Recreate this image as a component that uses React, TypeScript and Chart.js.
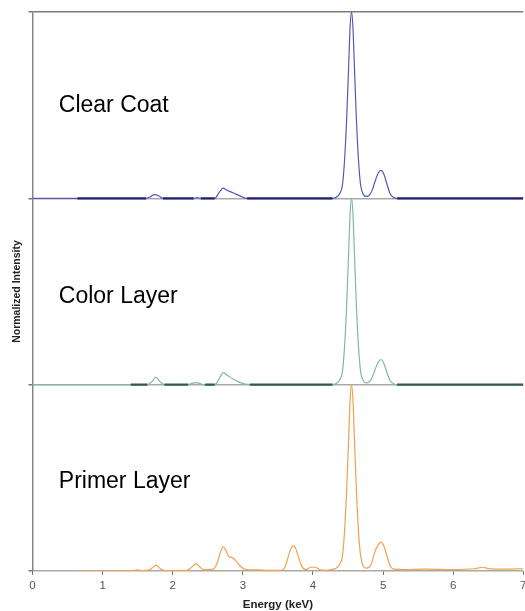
import React, { useEffect, useRef } from "react";
import { Chart, registerables } from "chart.js";

Chart.register(...registerables);

// ---------------- data ----------------
const seriesNames = ["Clear Coat", "Color Layer", "Primer Layer"];
const xTickValues = [0, 1, 2, 3, 4, 5, 6, 7];
const yTickValues = [0, 1, 2, 3];
const panelOffsets = [2, 1, 0];

const clearCoatEnergy = [
  0, 0.64, 1.62, 1.68, 1.74, 1.8, 1.86, 2.3, 2.35, 2.4, 2.6, 2.66, 2.72, 2.78, 2.86, 2.92, 3.0, 3.06,
  4.28, 4.33, 4.38, 4.42, 4.45, 4.48, 4.51, 4.53, 4.55, 4.57, 4.59, 4.62, 4.65, 4.68, 4.72, 4.76,
  4.8, 4.84, 4.88, 4.93, 4.97, 5.01, 5.06, 5.1, 5.15, 5.2, 7,
];
const clearCoatIntensity = [
  0, 0, 0, 0.008, 0.02, 0.014, 0, 0, 0.004, 0, 0, 0.03, 0.055, 0.042, 0.03, 0.02, 0.006, 0,
  0, 0.006, 0.025, 0.07, 0.2, 0.42, 0.72, 0.92, 1.0, 0.92, 0.72, 0.42, 0.2, 0.07, 0.02, 0.01,
  0.015, 0.04, 0.085, 0.135, 0.15, 0.13, 0.07, 0.025, 0.005, 0, 0,
];

const colorLayerEnergy = [
  0, 1.4, 1.64, 1.7, 1.76, 1.82, 1.88, 2.22, 2.28, 2.34, 2.4, 2.46, 2.6, 2.66, 2.72, 2.78, 2.86, 2.94, 3.02, 3.1,
  4.28, 4.33, 4.38, 4.42, 4.45, 4.48, 4.51, 4.53, 4.55, 4.57, 4.59, 4.62, 4.65, 4.68, 4.72, 4.76,
  4.8, 4.84, 4.88, 4.93, 4.97, 5.01, 5.06, 5.1, 5.15, 5.2, 7,
];
const colorLayerIntensity = [
  0, 0, 0, 0.015, 0.04, 0.015, 0, 0, 0.008, 0.011, 0.004, 0, 0, 0.03, 0.065, 0.05, 0.03, 0.015, 0.004, 0,
  0, 0.006, 0.025, 0.07, 0.2, 0.42, 0.72, 0.92, 1.0, 0.92, 0.72, 0.42, 0.2, 0.07, 0.02, 0.01,
  0.014, 0.035, 0.075, 0.12, 0.135, 0.115, 0.06, 0.022, 0.005, 0, 0,
];

const primerEnergy = [
  0.6, 1.4, 1.5, 1.58, 1.68, 1.76, 1.83, 1.9, 2.2, 2.27, 2.33, 2.39, 2.45, 2.52, 2.58, 2.64, 2.68, 2.72,
  2.76, 2.8, 2.86, 2.92, 2.98, 3.05, 3.2, 3.4, 3.55, 3.6, 3.65, 3.69, 3.72, 3.75, 3.79, 3.84, 3.9, 3.97,
  4.03, 4.1, 4.2, 4.28, 4.33, 4.38, 4.42, 4.45, 4.48, 4.51, 4.53, 4.55, 4.57, 4.59, 4.62, 4.65, 4.68,
  4.72, 4.76, 4.8, 4.84, 4.88, 4.93, 4.97, 5.01, 5.06, 5.1, 5.15, 5.3, 5.6, 6.0, 6.3, 6.42, 6.5, 6.7, 7,
];
const primerIntensity = [
  0, 0.002, 0.006, 0.002, 0.008, 0.032, 0.01, 0.002, 0.003, 0.02, 0.04, 0.02, 0.006, 0.008, 0.01, 0.05, 0.1, 0.13,
  0.11, 0.078, 0.07, 0.045, 0.02, 0.008, 0.006, 0.003, 0.004, 0.02, 0.08, 0.125, 0.135, 0.125, 0.08, 0.025, 0.008, 0.02,
  0.02, 0.006, 0.004, 0.01, 0.015, 0.035, 0.08, 0.21, 0.43, 0.72, 0.92, 1.0, 0.92, 0.72, 0.43, 0.21, 0.08,
  0.025, 0.015, 0.02, 0.045, 0.1, 0.14, 0.155, 0.135, 0.075, 0.03, 0.01, 0.008, 0.01, 0.008, 0.012, 0.02, 0.013, 0.01, 0.012,
];

const seriesEnergy = [clearCoatEnergy, colorLayerEnergy, primerEnergy];
const seriesIntensity = [clearCoatIntensity, colorLayerIntensity, primerIntensity];

// ---------------- styles ----------------
const lineColors = ["#5858b4", "#7db8a6", "#f0a24e"];
const baseColors = ["#1e1e74", "#2f5c48", "#d88a4e"];
const darkFrom = [0.64, 1.4, 0.6];
const labelLiftPx = [86.5, 81.5, 82.7];
const FONT = '"Liberation Sans", Arial, Helvetica, sans-serif';

const panelLabelsPlugin = {
  id: "panelLabels",
  afterDatasetsDraw(chart: any) {
    const { ctx, scales } = chart;
    const xs = scales.x;
    const ys = scales.y;
    ctx.save();
    ctx.font = `23px ${FONT}`;
    ctx.fillStyle = "#000";
    ctx.textBaseline = "alphabetic";
    ctx.textAlign = "left";
    seriesNames.forEach((name, i) => {
      ctx.fillText(name, xs.getPixelForValue(0.375), ys.getPixelForValue(panelOffsets[i]) - labelLiftPx[i]);
    });
    ctx.restore();
  },
};

export default function App() {
  const canvasRef = useRef<HTMLCanvasElement | null>(null);

  useEffect(() => {
    if (!canvasRef.current) return;
    const datasets = seriesNames.map((name, i) => {
      const off = panelOffsets[i];
      const isBase = (c: any) =>
        c.p0.parsed.y === off && c.p1.parsed.y === off && c.p0.parsed.x >= darkFrom[i] - 1e-9;
      return {
        label: name,
        data: seriesEnergy[i].map((e, k) => ({ x: e, y: seriesIntensity[i][k] + off })),
        borderColor: lineColors[i],
        borderWidth: 1.2,
        pointRadius: 0,
        fill: false,
        tension: 0.4,
        cubicInterpolationMode: "monotone" as const,
        segment: {
          borderColor: (c: any) => (isBase(c) ? baseColors[i] : lineColors[i]),
          borderWidth: (c: any) => (isBase(c) ? 2.4 : 1.2),
        },
      };
    });

    const chart = new Chart(canvasRef.current, {
      type: "line",
      data: { datasets },
      plugins: [panelLabelsPlugin],
      options: {
        animation: false,
        responsive: false,
        devicePixelRatio: 1,
        layout: { padding: { left: 11.75, top: 12, right: 4.6, bottom: 0 } },
        plugins: { legend: { display: false }, tooltip: { enabled: false } },
        scales: {
          x: {
            type: "linear",
            min: 0,
            max: 7,
            afterBuildTicks: (s: any) => {
              s.ticks = xTickValues.map((v) => ({ value: v }));
            },
            ticks: {
              color: "#555",
              font: { family: FONT, size: 11.5, lineHeight: 1 },
              padding: 5.5,
              maxRotation: 0,
              autoSkip: false,
            },
            grid: { drawOnChartArea: false, drawTicks: true, tickLength: 4, color: "#777", lineWidth: 1 },
            border: { display: false },
            title: {
              display: true,
              text: "Energy (keV)",
              color: "#222",
              font: { family: FONT, size: 11.5, weight: "bold", lineHeight: 1 },
              padding: { top: 0, bottom: 0 },
            },
            afterFit: (s: any) => {
              s.height = 40;
            },
          },
          y: {
            min: 0,
            max: 3,
            afterBuildTicks: (s: any) => {
              s.ticks = yTickValues.map((v) => ({ value: v }));
            },
            ticks: { display: false },
            grid: {
              color: (c: any) => (c.tick && c.tick.value === 3 ? "#7c7c7c" : "#a9a9a9"),
              lineWidth: 1.5,
              drawTicks: true,
              tickLength: 4,
              tickColor: "#777",
            },
            border: { color: "#858585", width: 1.5 },
            title: {
              display: true,
              text: "Normalized Intensity",
              color: "#222",
              font: { family: FONT, size: 10.5, weight: "bold", lineHeight: 1 },
              padding: { top: 0, bottom: 0 },
            },
            afterFit: (s: any) => {
              s.width = 20.75;
            },
          },
        },
      },
    });
    return () => chart.destroy();
  }, []);

  return (
    <div style={{ position: "absolute", left: 0, top: 0, width: 525, height: 611, overflow: "hidden", background: "#fff" }}>
      <canvas ref={canvasRef} width={532} height={611} style={{ display: "block", width: 532, height: 611 }} />
    </div>
  );
}
